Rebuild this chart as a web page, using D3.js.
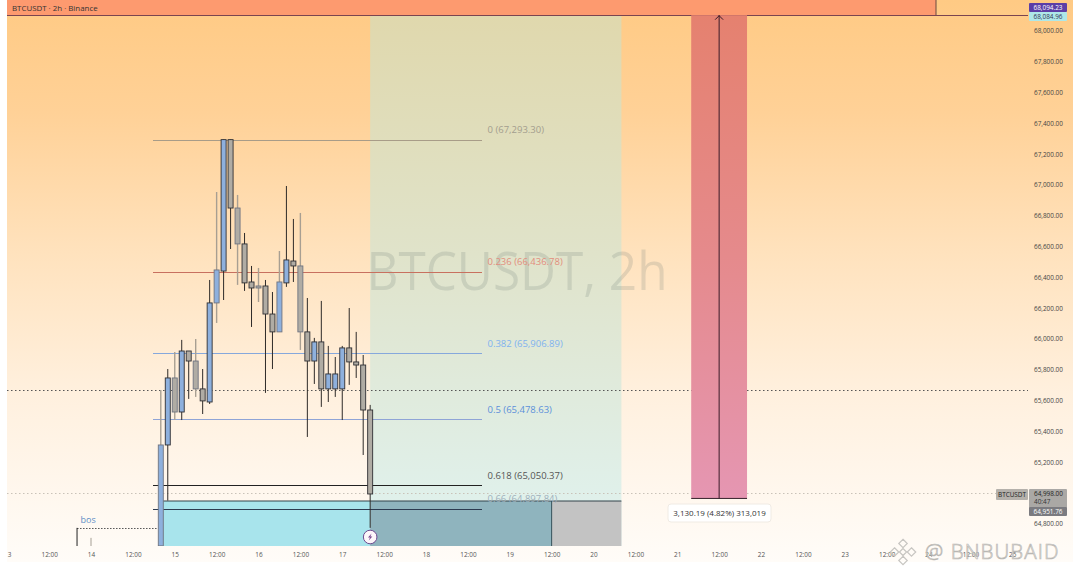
<!DOCTYPE html>
<html>
<head>
<meta charset="utf-8">
<script src="https://cdn.jsdelivr.net/npm/d3@7"></script>
<style>
  html, body { margin: 0; padding: 0; background: #fff; }
  svg { display: block; }
  text { font-family: "Open Sans", "DejaVu Sans", sans-serif; }
</style>
</head>
<body>
<div id="chart"></div>
<script>
var symbolTitle = "BTCUSDT · 2h · Binance";
var watermark = "BTCUSDT, 2h";

// candles every 2h, first one at 14th 20:00
var candleStart = "2024-01-14T20:00";
var opens  = [64656,65311,65746,65525,65921,65856,65675,65590,66233,66440,67293,66849,66616,66369,66343,66343,66161,66045,66363,66505,66473,66045,65856,65980,65675,65675,65675,65941,65850,65830,65538];
var highs  = [65668,65804,65915,65993,65921,65999,65804,66382,66953,67293,67293,66934,66687,66473,66460,66382,66304,66570,66992,66778,66817,66265,66006,66246,65954,65882,65954,66200,66045,65895,65571];
var lows   = [64656,64950,65473,65473,65610,65623,65512,65577,66103,66252,66583,66350,66311,66077,66239,65649,65804,66045,66337,66369,65928,65363,65707,65558,65590,65623,65473,65701,65746,65246,64773];
var closes = [65311,65746,65525,65921,65856,65675,65597,66233,66447,67293,66849,66616,66363,66330,66330,66161,66045,66369,66512,66473,66045,65856,65980,65675,65772,65772,65941,65850,65830,65538,64993];

// the two wicks that poke up next to "bos"
var bosWickTimes = ["2024-01-13T20:00", "2024-01-14T00:00"];
var bosWickHighs = [64773, 64708];

var fibLevels = ["0", "0.236", "0.382", "0.5", "0.618", "0.66"];
var fibPrices = [67293.30, 66436.78, 65906.89, 65478.63, 65050.37, 64897.84];
var fibLineColors = ["#a89c88", "#c8705f", "#86a8dc", "#8fa4d6", "#222222", "#2c3a50"];
var fibTextColors = ["#a39d8e", "#e28d7d", "#7fb2ef", "#5c90da", "#555555", "#9fb0bd"];

var priceTicks = [68000,67800,67600,67400,67200,67000,66800,66600,66400,66200,66000,65800,65600,65400,65200,64800];

var dayTicks = [13,14,15,16,17,18,19,20,21,22,23,24,25];
var noonTicks = [13,14,15,16,17,18,19,20,21,22,23,24];

var lastPrice = 64998.00, countdown = "40:47", markPrice = 64951.76, crossPrice = 65668;
var highLabel = 68094.23, highLabel2 = 68084.96;
var measureDelta = 3130.19;
var measureText = "3,130.19 (4.82%) 313,019";

var width = 1080, height = 578;
var plotL = 7, plotR = 1028, plotB = 546, paneR = 1073, paneB = 562;

var parseT = d3.timeParse("%Y-%m-%dT%H:%M");

var y = d3.scaleLinear().domain([68000, 64800]).range([30.7, 523.7]);
var x = d3.scaleTime()
  .domain([parseT("2024-01-14T00:00"), parseT("2024-01-22T00:00")])
  .range([91, 761]);
// crisp horizontal lines
var yPx = function (p) { return Math.round(y(p)) + .5; };

var t0 = parseT(candleStart);
var candles = opens.map(function (o, i) {
  return { t: d3.timeHour.offset(t0, i * 2), o: o, h: highs[i], l: lows[i], c: closes[i] };
});

var svg = d3.select("#chart").append("svg").attr("width", width).attr("height", height);
var defs = svg.append("defs");

function vGrad(id, stops) {
  var g = defs.append("linearGradient").attr("id", id).attr("x1", 0).attr("x2", 0).attr("y1", 0).attr("y2", 1);
  stops.forEach(function (s) { g.append("stop").attr("offset", s[0]).attr("stop-color", s[1]); });
}
vGrad("bg", [[0, "#ffca84"], [0.2, "#ffd197"], [0.45, "#ffe2bd"], [0.7, "#fff0de"], [0.95, "#fffaf4"], [1, "#fffcf8"]]);
vGrad("fibZone", [[0, "#e0d8ad"], [0.45, "#e0e3ca"], [1, "#e0f3f1"]]);
vGrad("redBox", [[0, "#e5816f"], [0.5, "#e58a8c"], [1, "#e596b2"]]);

defs.append("clipPath").attr("id", "plotClip").append("rect")
  .attr("x", plotL).attr("y", 0).attr("width", plotR - plotL).attr("height", plotB);
defs.append("clipPath").attr("id", "timeClip").append("rect")
  .attr("x", plotL).attr("y", plotB).attr("width", paneR - plotL).attr("height", paneB - plotB);

svg.append("rect").attr("x", plotL).attr("y", 0).attr("width", paneR - plotL).attr("height", paneB).attr("fill", "url(#bg)");

var plot = svg.append("g").attr("clip-path", "url(#plotClip)");

// zone behind the fib levels
var zoneL = x(parseT("2024-01-17T08:00")), zoneR = x(parseT("2024-01-20T08:00"));
var zoneEnd = x(parseT("2024-01-19T12:00"));
plot.append("rect").attr("x", zoneL).attr("y", 15).attr("width", zoneR - zoneL).attr("height", plotB - 15).attr("fill", "url(#fibZone)");

// top bar
plot.append("rect").attr("x", plotL).attr("y", 0).attr("width", 936 - plotL).attr("height", 15).attr("fill", "#fd9a6f");
plot.append("line").attr("x1", 936).attr("x2", 936).attr("y1", 0).attr("y2", 15).attr("stroke", "#6b4a40");
plot.append("line").attr("x1", plotL).attr("x2", plotR).attr("y1", 15.5).attr("y2", 15.5).attr("stroke", "#7a4450").attr("stroke-width", 1.2);

// watermark
plot.append("text").attr("x", 517).attr("y", 290).attr("text-anchor", "middle")
  .attr("font-size", 53).attr("fill", "#6e7d7a").attr("fill-opacity", 0.2)
  .attr("textLength", 301).attr("lengthAdjust", "spacingAndGlyphs").text(watermark);

// dotted price lines
plot.append("line").attr("x1", plotL).attr("x2", plotR).attr("y1", yPx(crossPrice)).attr("y2", yPx(crossPrice))
  .attr("stroke", "#555").attr("stroke-dasharray", "1.5,2.5");
plot.append("line").attr("x1", plotL).attr("x2", plotR).attr("y1", yPx(lastPrice)).attr("y2", yPx(lastPrice))
  .attr("stroke", "#c9c2b8").attr("stroke-dasharray", "1.5,2.5");

// demand boxes along the bottom
var boxTop = 501;
var boxL = x(candles[0].t);
plot.append("rect").attr("x", boxL).attr("y", boxTop).attr("width", zoneL - boxL).attr("height", plotB - boxTop).attr("fill", "#a8e4ec");
plot.append("rect").attr("x", zoneL).attr("y", boxTop).attr("width", zoneEnd - zoneL).attr("height", plotB - boxTop).attr("fill", "#8fb4be");
plot.append("rect").attr("x", zoneEnd).attr("y", boxTop).attr("width", zoneR - zoneEnd).attr("height", plotB - boxTop).attr("fill", "#c3c3c3");
plot.append("line").attr("x1", boxL).attr("x2", zoneR).attr("y1", boxTop).attr("y2", boxTop).attr("stroke", "#33424a");
plot.append("line").attr("x1", zoneEnd).attr("x2", zoneEnd).attr("y1", boxTop).attr("y2", plotB).attr("stroke", "#33505a");

// measure box
var mL = x(parseT("2024-01-21T04:00")), mR = x(parseT("2024-01-21T20:00")), mMid = x(parseT("2024-01-21T12:00"));
var mTop = y(highLabel) - 1, mBot = y(highLabel - measureDelta);
plot.append("rect").attr("x", mL).attr("y", mTop).attr("width", mR - mL).attr("height", mBot - mTop).attr("fill", "url(#redBox)");
plot.append("line").attr("x1", mL).attr("x2", mR).attr("y1", mBot).attr("y2", mBot).attr("stroke", "#33202a");
plot.append("line").attr("x1", mMid).attr("x2", mMid).attr("y1", mBot).attr("y2", mTop).attr("stroke", "#3a1c28");
plot.append("path").attr("d", "M" + (mMid - 4) + "," + (mTop + 4.5) + "L" + mMid + "," + (mTop + .5) + "L" + (mMid + 4) + "," + (mTop + 4.5))
  .attr("fill", "none").attr("stroke", "#3a1c28");

// fib lines and labels
var fibL = 153, fibR = 482;
fibPrices.forEach(function (p, i) {
  plot.append("line").attr("x1", fibL).attr("x2", fibR).attr("y1", yPx(p)).attr("y2", yPx(p))
    .attr("stroke", fibLineColors[i]).attr("stroke-width", 1);
  plot.append("text").attr("x", 487.5).attr("y", y(p) - 6.5).attr("font-size", 9.5)
    .attr("fill", fibTextColors[i]).text(fibLevels[i] + " (" + d3.format(",.2f")(p) + ")");
});

// bos
plot.append("line").attr("x1", x(parseT(bosWickTimes[0]))).attr("x2", 158).attr("y1", yPx(bosWickHighs[0])).attr("y2", yPx(bosWickHighs[0]))
  .attr("stroke", "#555").attr("stroke-dasharray", "1.5,1.5");
plot.append("text").attr("x", 80.5).attr("y", 523).attr("font-size", 9).attr("fill", "#5f8fc6").text("bos");
bosWickTimes.forEach(function (t, i) {
  plot.append("line").attr("x1", x(parseT(t))).attr("x2", x(parseT(t))).attr("y1", y(bosWickHighs[i])).attr("y2", plotB)
    .attr("stroke", i ? "#a59f94" : "#222");
});

// candles
var soft = function (i) { return i == 0 || (i % 3 == 2 && i < 21); };
var bw = 5;
var cg = plot.append("g").selectAll("g").data(candles).join("g");
cg.append("line")
  .attr("x1", function (d) { return x(d.t); }).attr("x2", function (d) { return x(d.t); })
  .attr("y1", function (d) { return y(d.h); }).attr("y2", function (d) { return y(d.l); })
  .attr("stroke", function (d, i) { return soft(i) ? "#a89f92" : "#2e2a28"; })
  .attr("stroke-width", function (d, i) { return soft(i) ? 1.4 : 1; });
cg.append("rect")
  .attr("x", function (d) { return x(d.t) - bw / 2; })
  .attr("width", bw)
  .attr("y", function (d) { return y(Math.max(d.o, d.c)); })
  .attr("height", function (d) { return Math.max(1.5, Math.abs(y(d.o) - y(d.c))); })
  .attr("fill", function (d) { return d.c >= d.o ? "#8eb0dd" : "#b0aca4"; })
  .attr("stroke", function (d, i) { return soft(i) ? "#6f7480" : "#2f2f33"; })
  .attr("stroke-width", 0.9);

// lightning marker
var bolt = plot.append("g").attr("transform", "translate(" + x(candles[30].t) + ",537)");
bolt.append("circle").attr("r", 6.8).attr("fill", "#fdf6fa").attr("stroke", "#6d4a90").attr("stroke-width", 1);
bolt.append("path").attr("d", "M1.4,-3.6L-2.2,0.6L-0.2,0.6L-1.4,3.6L2.2,-0.6L0.2,-0.6Z").attr("fill", "#7a4a90");

// measure label
var ml = svg.append("g");
ml.append("rect").attr("x", 668).attr("y", 504).attr("width", 103).attr("height", 18).attr("rx", 3)
  .attr("fill", "#fff").attr("stroke", "#f0ebe4");
ml.append("text").attr("x", 719.5).attr("y", 516).attr("text-anchor", "middle").attr("font-size", 8).attr("fill", "#333").text(measureText);

// title
svg.append("text").attr("x", 12).attr("y", 11).attr("font-size", 7.9).attr("fill", "#333").text(symbolTitle);

// price axis
var yAxis = d3.axisRight(y).tickValues(priceTicks).tickSize(0).tickPadding(0).tickFormat(d3.format(",.2f"));
var yg = svg.append("g").attr("transform", "translate(1034,0)").call(yAxis);
yg.select(".domain").remove();
yg.selectAll("text").attr("font-size", 6.4).attr("fill", "#444").attr("font-family", "\"Open Sans\", sans-serif");

// time axis
var timeG = svg.append("g").attr("clip-path", "url(#timeClip)");
var dayDates = dayTicks.map(function (d) { return parseT("2024-01-" + d + "T00:00"); });
var noonDates = noonTicks.map(function (d) { return parseT("2024-01-" + d + "T12:00"); });
var xAxis = d3.axisBottom(x).tickValues(dayDates.concat(noonDates)).tickSize(0).tickPadding(0)
  .tickFormat(function (d) { return d.getHours() == 12 ? "12:00" : d3.timeFormat("%-d")(d); });
var xg = timeG.append("g").attr("transform", "translate(0,552)").call(xAxis);
xg.select(".domain").remove();
xg.selectAll("text").attr("font-size", 6.4).attr("fill", "#555").attr("font-family", "\"Open Sans\", sans-serif");

// labels stuck on the price scale
function scaleTag(x0, y0, w, h, fill, txt, col) {
  svg.append("rect").attr("x", x0).attr("y", y0).attr("width", w).attr("height", h).attr("rx", 1).attr("fill", fill);
  if (txt) svg.append("text").attr("x", x0 + w / 2).attr("y", y0 + h / 2 + 2.3).attr("text-anchor", "middle")
    .attr("font-size", 6.4).attr("fill", col).text(txt);
}
scaleTag(1029, 3, 38, 9, "#5c3fa6", d3.format(",.2f")(highLabel), "#fff");
scaleTag(1029, 12, 38, 9, "#aee8e8", d3.format(",.2f")(highLabel2), "#335");
scaleTag(996, 489, 32, 11, "#b5b1ab", "BTCUSDT", "#222");
scaleTag(1029, 489, 38, 19, "#aaa8a5", null);
svg.append("text").attr("x", 1034).attr("y", 495.5).attr("font-size", 6.4).attr("fill", "#222").text(d3.format(",.2f")(lastPrice));
svg.append("text").attr("x", 1034).attr("y", 503.5).attr("font-size", 6.4).attr("fill", "#333").text(countdown);
scaleTag(1029, 507, 38, 9, "#7b7b80", d3.format(",.2f")(markPrice), "#fff");

// author stamp
var stamp = svg.append("g").attr("fill", "none").attr("stroke", "#c8c6c2").attr("stroke-width", 1.2);
stamp.append("path").attr("transform", "translate(903,552) rotate(45)")
  .attr("d", "M-9,-9h6v6h-6zM3,-9h6v6h-6zM-9,3h6v6h-6zM3,3h6v6h-6zM-2.5,-2.5h5v5h-5z");
svg.append("text").attr("x", 925).attr("y", 558.5).attr("font-size", 20.5).attr("letter-spacing", 1.1)
  .attr("font-family", "Roboto, sans-serif").attr("font-weight", 300).attr("fill", "#ffffff").attr("fill-opacity", 0.6)
  .attr("stroke", "#b9b7b3").attr("stroke-width", 0.7).text("@ BNBUBAID");
</script>
</body>
</html>
